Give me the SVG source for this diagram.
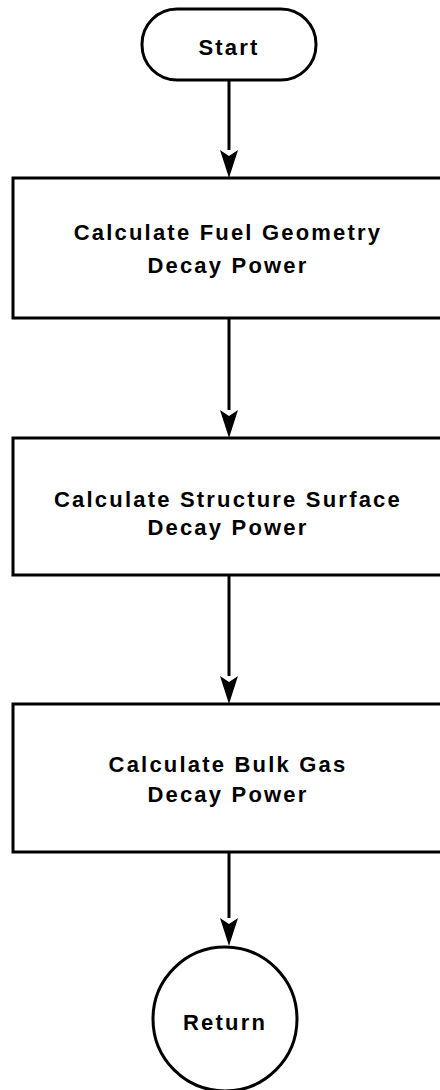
<svg xmlns="http://www.w3.org/2000/svg" width="440" height="1090" viewBox="0 0 440 1090">
<style>
.shape{fill:#fff;stroke:#000;stroke-width:3}
.lbl{font-family:"Liberation Sans",Arial,sans-serif;font-size:22px;font-weight:bold;fill:#000;text-anchor:middle;letter-spacing:2.2px}
.conn{stroke:#000;stroke-width:3;fill:none}
</style>
<defs>
<marker id="ah" markerUnits="userSpaceOnUse" markerWidth="18" markerHeight="28" refX="9" refY="28" orient="auto-start-reverse" viewBox="0 0 18 28">
<path d="M0,0 L9,6 L18,0 L9,28 Z" fill="#000" transform="rotate(0)"/>
</marker>
</defs>
<rect width="440" height="1090" fill="#fff"/>
<g id="connectors">
<line class="conn" x1="229" y1="80" x2="229" y2="150"/>
<path d="M220,150 L229,156 L238,150 L229,178 Z" fill="#000"/>
<line class="conn" x1="229" y1="318" x2="229" y2="410"/>
<path d="M220,410 L229,416 L238,410 L229,438 Z" fill="#000"/>
<line class="conn" x1="229" y1="575" x2="229" y2="676"/>
<path d="M220,676 L229,682 L238,676 L229,704 Z" fill="#000"/>
<line class="conn" x1="229" y1="852" x2="229" y2="918"/>
<path d="M220,918 L229,924 L238,918 L229,946 Z" fill="#000"/>
</g>
<g id="start">
<rect class="shape" x="142" y="9" width="174" height="71" rx="35" ry="35"/>
<text class="lbl" x="229" y="55">Start</text>
</g>
<g id="fuel">
<rect class="shape" x="13" y="178" width="440" height="140"/>
<text class="lbl" x="228" y="240">Calculate Fuel Geometry</text>
<text class="lbl" x="228" y="273">Decay Power</text>
</g>
<g id="structure">
<rect class="shape" x="13" y="438" width="440" height="137"/>
<text class="lbl" x="228" y="507">Calculate Structure Surface</text>
<text class="lbl" x="228" y="535">Decay Power</text>
</g>
<g id="bulk">
<rect class="shape" x="13" y="704" width="440" height="148"/>
<text class="lbl" x="228" y="772">Calculate Bulk Gas</text>
<text class="lbl" x="228" y="802">Decay Power</text>
</g>
<g id="return">
<circle class="shape" cx="225" cy="1019" r="72"/>
<text class="lbl" x="225" y="1030">Return</text>
</g>
</svg>
